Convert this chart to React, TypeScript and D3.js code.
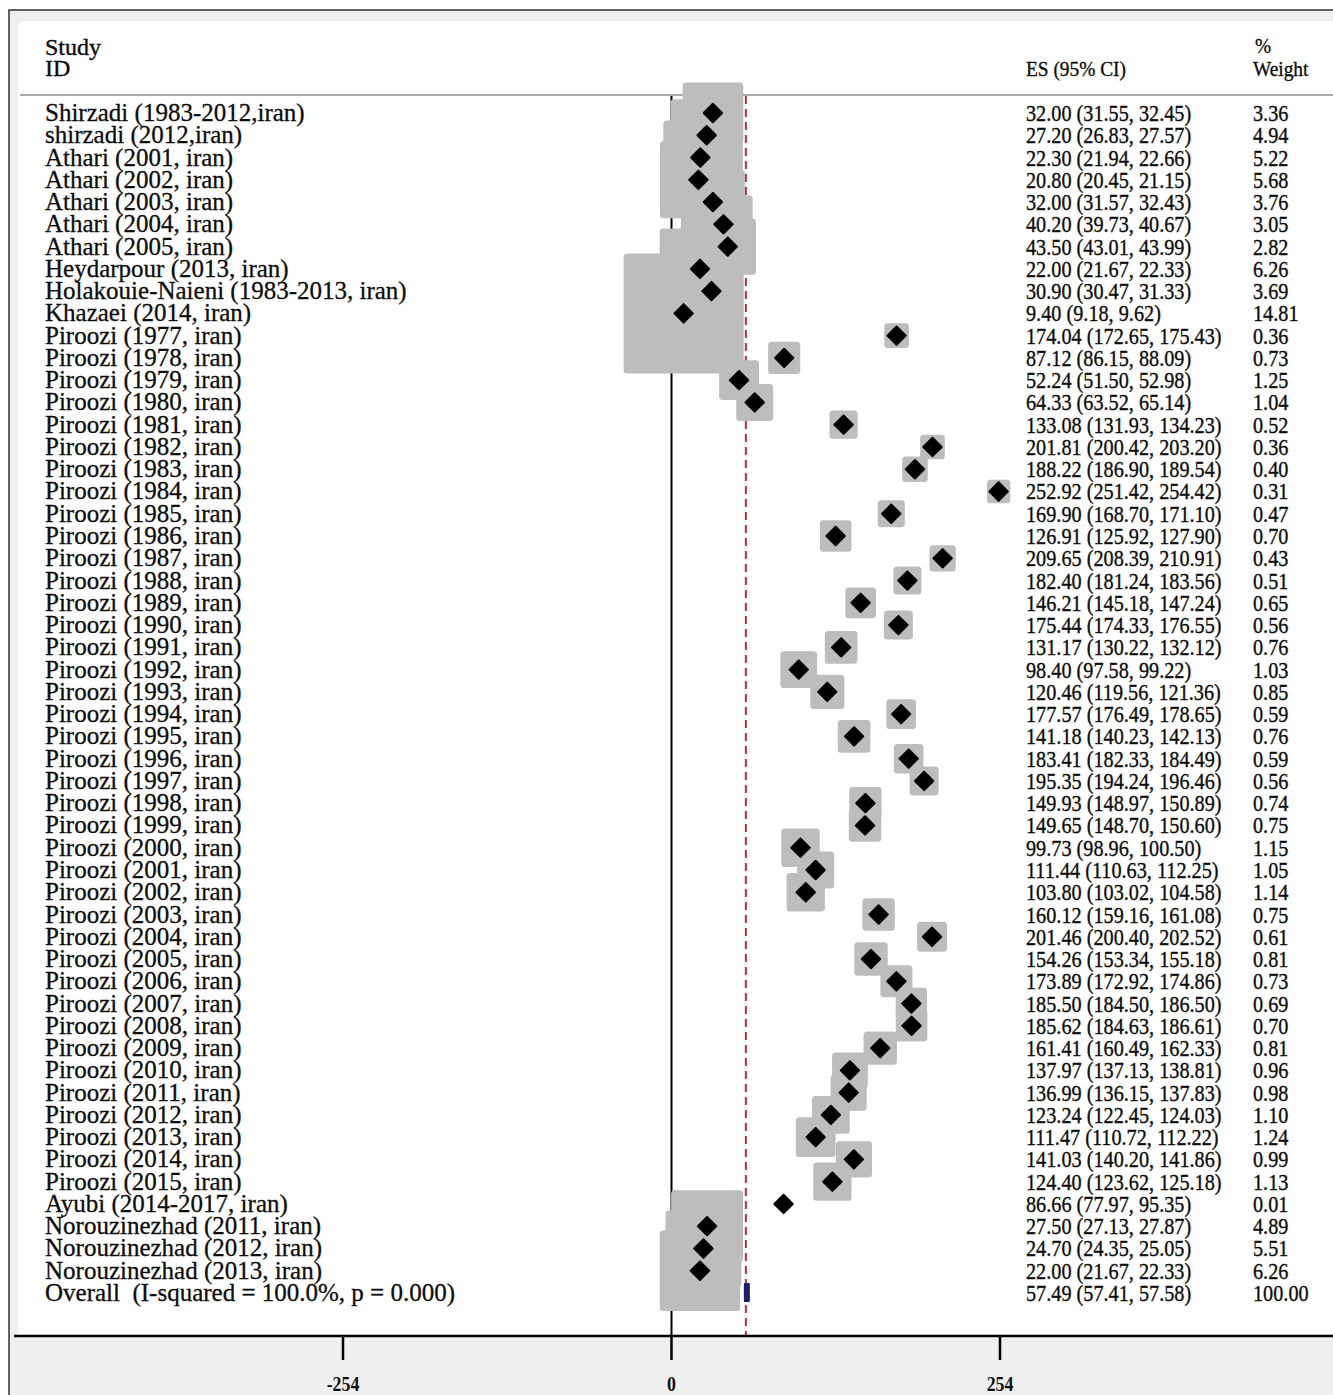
import * as d3 from "d3";

// study labels, top to bottom
const studies = [
  "Shirzadi (1983-2012,iran)", "shirzadi (2012,iran)",
  "Athari (2001, iran)", "Athari (2002, iran)", "Athari (2003, iran)", "Athari (2004, iran)", "Athari (2005, iran)",
  "Heydarpour (2013, iran)", "Holakouie-Naieni (1983-2013, iran)", "Khazaei (2014, iran)",
  "Piroozi (1977, iran)", "Piroozi (1978, iran)", "Piroozi (1979, iran)", "Piroozi (1980, iran)",
  "Piroozi (1981, iran)", "Piroozi (1982, iran)", "Piroozi (1983, iran)", "Piroozi (1984, iran)",
  "Piroozi (1985, iran)", "Piroozi (1986, iran)", "Piroozi (1987, iran)", "Piroozi (1988, iran)",
  "Piroozi (1989, iran)", "Piroozi (1990, iran)", "Piroozi (1991, iran)", "Piroozi (1992, iran)",
  "Piroozi (1993, iran)", "Piroozi (1994, iran)", "Piroozi (1995, iran)", "Piroozi (1996, iran)",
  "Piroozi (1997, iran)", "Piroozi (1998, iran)", "Piroozi (1999, iran)", "Piroozi (2000, iran)",
  "Piroozi (2001, iran)", "Piroozi (2002, iran)", "Piroozi (2003, iran)", "Piroozi (2004, iran)",
  "Piroozi (2005, iran)", "Piroozi (2006, iran)", "Piroozi (2007, iran)", "Piroozi (2008, iran)",
  "Piroozi (2009, iran)", "Piroozi (2010, iran)", "Piroozi (2011, iran)", "Piroozi (2012, iran)",
  "Piroozi (2013, iran)", "Piroozi (2014, iran)", "Piroozi (2015, iran)",
  "Ayubi (2014-2017, iran)", "Norouzinezhad (2011, iran)", "Norouzinezhad (2012, iran)", "Norouzinezhad (2013, iran)",
];

const es = [
  32.0, 27.2, 22.3, 20.8, 32.0, 40.2, 43.5, 22.0, 30.9, 9.4,
  174.04, 87.12, 52.24, 64.33, 133.08, 201.81, 188.22, 252.92, 169.9, 126.91,
  209.65, 182.4, 146.21, 175.44, 131.17, 98.4, 120.46, 177.57, 141.18, 183.41,
  195.35, 149.93, 149.65, 99.73, 111.44, 103.8, 160.12, 201.46, 154.26, 173.89,
  185.5, 185.62, 161.41, 137.97, 136.99, 123.24, 111.47, 141.03, 124.4,
  86.66, 27.5, 24.7, 22.0,
];
const lower = [
  31.55, 26.83, 21.94, 20.45, 31.57, 39.73, 43.01, 21.67, 30.47, 9.18,
  172.65, 86.15, 51.5, 63.52, 131.93, 200.42, 186.9, 251.42, 168.7, 125.92,
  208.39, 181.24, 145.18, 174.33, 130.22, 97.58, 119.56, 176.49, 140.23, 182.33,
  194.24, 148.97, 148.7, 98.96, 110.63, 103.02, 159.16, 200.4, 153.34, 172.92,
  184.5, 184.63, 160.49, 137.13, 136.15, 122.45, 110.72, 140.2, 123.62,
  77.97, 27.13, 24.35, 21.67,
];
const upper = [
  32.45, 27.57, 22.66, 21.15, 32.43, 40.67, 43.99, 22.33, 31.33, 9.62,
  175.43, 88.09, 52.98, 65.14, 134.23, 203.2, 189.54, 254.42, 171.1, 127.9,
  210.91, 183.56, 147.24, 176.55, 132.12, 99.22, 121.36, 178.65, 142.13, 184.49,
  196.46, 150.89, 150.6, 100.5, 112.25, 104.58, 161.08, 202.52, 155.18, 174.86,
  186.5, 186.61, 162.33, 138.81, 137.83, 124.03, 112.22, 141.86, 125.18,
  95.35, 27.87, 25.05, 22.33,
];
const weights = [
  3.36, 4.94, 5.22, 5.68, 3.76, 3.05, 2.82, 6.26, 3.69, 14.81,
  0.36, 0.73, 1.25, 1.04, 0.52, 0.36, 0.4, 0.31, 0.47, 0.7,
  0.43, 0.51, 0.65, 0.56, 0.76, 1.03, 0.85, 0.59, 0.76, 0.59,
  0.56, 0.74, 0.75, 1.15, 1.05, 1.14, 0.75, 0.61, 0.81, 0.73,
  0.69, 0.7, 0.81, 0.96, 0.98, 1.1, 1.24, 0.99, 1.13,
  0.01, 4.89, 5.51, 6.26,
];

const overallLabel = "Overall\u00a0\u00a0(I-squared = 100.0%, p = 0.000)";
const overall = { es: 57.49, lower: 57.41, upper: 57.58, weight: 100.0 };

const xTicks = [-254, 0, 254];

const serif = "'Liberation Serif', 'Times New Roman', serif";
const boxGray = "#bdbdbd";
const ink = "#0d0d0d";

function fmt(v: number) {
  return d3.format(".2f")(v);
}

export default function App() {
  const width = 1333;
  const height = 1395;
  const axisY = 1336;

  const x = d3.scaleLinear().domain([-254, 254]).range([343, 1000]);
  const nRows = studies.length + 1;
  const y = d3.scalePoint<number>().domain(d3.range(nRows)).range([113, 1293]);
  // box side ~ sqrt(weight); a same-colour stroke gives the rounded padding
  const side = d3.scaleSqrt().domain([0, 14.81]).range([0, 113]);

  const esCol = 1026;
  const wCol = 1253;
  const condense = 0.88;

  const rows = studies.map((s, i) => ({
    label: s,
    es: es[i],
    lo: lower[i],
    hi: upper[i],
    w: weights[i],
    y: y(i) as number,
  }));
  const oy = y(nRows - 1) as number;

  const condText = (tx: number, ty: number, str: string, key: string, size = 23) => (
    <g key={key} transform={`translate(${tx},${ty}) scale(${condense},1)`}>
      <text x={0} y={0} fontSize={size} fontFamily={serif} fill={ink} stroke={ink} strokeWidth={0.35}>
        {str}
      </text>
    </g>
  );

  return (
    <>
      <style>{`body{margin:0}`}</style>
      <svg width={width} height={height} style={{ display: "block" }}>
        <rect x={0} y={0} width={width} height={height} fill="#ffffff" />
        {/* outer graph region */}
        <rect x={9} y={10} width={width} height={height} fill="#efefef" stroke="#333" strokeWidth={1.5} />
        <rect x={18} y={21} width={width} height={axisY - 21} rx={6} fill="#ffffff" />

        {/* headers */}
        <text x={45} y={55} fontSize={24} fontFamily={serif} fill={ink} stroke={ink} strokeWidth={0.35}>Study</text>
        <text x={45} y={76} fontSize={24} fontFamily={serif} fill={ink} stroke={ink} strokeWidth={0.35}>ID</text>
        {condText(esCol, 76, "ES (95% CI)", "h-es", 22)}
        {condText(wCol + 2, 53, "%", "h-pct", 22)}
        {condText(wCol, 76, "Weight", "h-w", 22)}
        <line x1={20} x2={width} y1={95} y2={95} stroke="#a9a9a9" strokeWidth={2} />

        {/* null line and overall line */}
        <line x1={x(0)} x2={x(0)} y1={96} y2={axisY} stroke="#000" strokeWidth={2} />
        <line
          x1={x(overall.es)}
          x2={x(overall.es)}
          y1={96}
          y2={axisY}
          stroke="#b0303f"
          strokeWidth={2}
          strokeDasharray="8 5"
        />

        {/* weight boxes */}
        {rows.map((d, i) => {
          const s = side(d.w);
          return (
            <rect
              key={`box-${i}`}
              x={x(d.es) - s / 2}
              y={d.y - s / 2}
              width={s}
              height={s}
              fill={boxGray}
              stroke={boxGray}
              strokeWidth={7}
              strokeLinejoin="round"
            />
          );
        })}

        {/* point estimates */}
        {rows.map((d, i) => {
          const cx = x(d.es);
          const r = 9.2;
          return (
            <polygon
              key={`pt-${i}`}
              points={`${cx},${d.y - r} ${cx + r},${d.y} ${cx},${d.y + r} ${cx - r},${d.y}`}
              fill="#000"
              stroke="#000"
              strokeWidth={2}
              strokeLinejoin="round"
            />
          );
        })}

        {/* overall estimate */}
        {(() => {
          const x0 = x(overall.lower);
          const x1 = x(overall.upper);
          const w = Math.max(x1 - x0, 6);
          const cx = (x0 + x1) / 2;
          return (
            <rect x={cx - w / 2 + 1} y={oy - 10} width={w} height={19} fill="#1c1c6b" rx={1} />
          );
        })()}

        {/* labels */}
        {rows.map((d, i) => (
          <text key={`lab-${i}`} x={45} y={d.y + 8} fontSize={25} fontFamily={serif} fill={ink} stroke={ink} strokeWidth={0.3}>
            {d.label}
          </text>
        ))}
        <text x={45} y={oy + 8} fontSize={25} fontFamily={serif} fill={ink} stroke={ink} strokeWidth={0.3}>
          {overallLabel}
        </text>

        {rows.map((d, i) => condText(esCol, d.y + 8, `${fmt(d.es)} (${fmt(d.lo)}, ${fmt(d.hi)})`, `es-${i}`))}
        {rows.map((d, i) => condText(wCol, d.y + 8, fmt(d.w), `w-${i}`))}
        {condText(esCol, oy + 8, `${fmt(overall.es)} (${fmt(overall.lower)}, ${fmt(overall.upper)})`, "es-o")}
        {condText(wCol, oy + 8, fmt(overall.weight), "w-o")}

        {/* x axis */}
        <line x1={14} x2={width} y1={axisY} y2={axisY} stroke="#000" strokeWidth={2.5} />
        {xTicks.map((t) => (
          <g key={`t-${t}`}>
            <line x1={x(t)} x2={x(t)} y1={axisY} y2={axisY + 24} stroke="#000" strokeWidth={2.5} />
            <g transform={`translate(${x(t)},${axisY + 55}) scale(0.85,1)`}>
              <text x={0} y={0} textAnchor="middle" fontSize={21} fontWeight={700} fontFamily={serif} fill="#111">
                {t}
              </text>
            </g>
          </g>
        ))}
      </svg>
    </>
  );
}
